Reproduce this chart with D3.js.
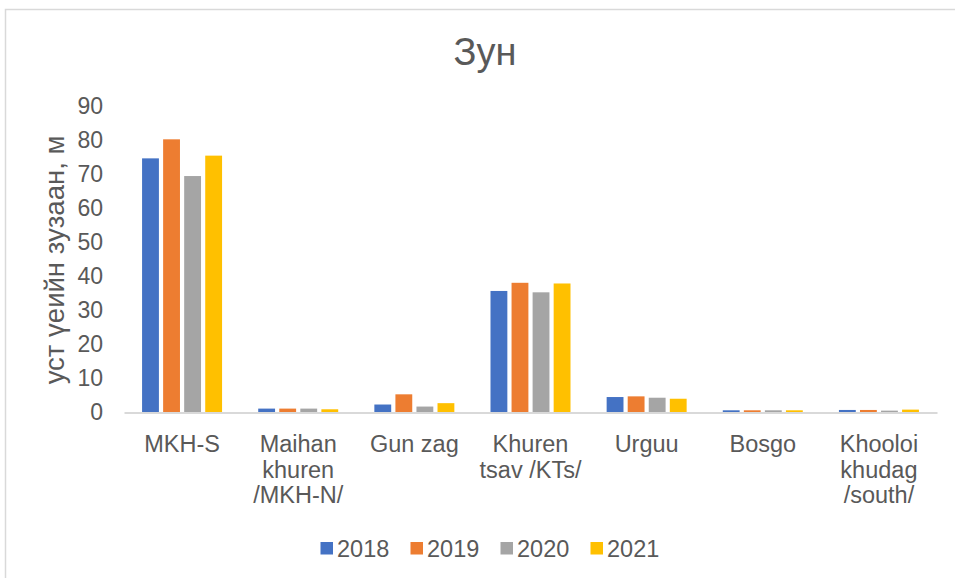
<!DOCTYPE html>
<html>
<head>
<meta charset="utf-8">
<script src="https://cdn.jsdelivr.net/npm/d3@7"></script>
<style>
  html, body { margin: 0; padding: 0; background: #fff; }
  svg { display: block; font-family: "Liberation Sans", Arial, sans-serif; }
</style>
</head>
<body>
<svg id="chart" width="955" height="578"></svg>
<script>
// Station names (wrapped as they appear under the axis)
const categories = ["MKH-S", "Maihan khuren /MKH-N/", "Gun zag", "Khuren tsav /KTs/", "Urguu", "Bosgo", "Khooloi khudag /south/"];
const categoryLines = [["MKH-S"], ["Maihan", "khuren", "/MKH-N/"], ["Gun zag"], ["Khuren", "tsav /KTs/"], ["Urguu"], ["Bosgo"], ["Khooloi", "khudag", "/south/"]];
const years = ["2018", "2019", "2020", "2021"];
const colors = ["#4472c4", "#ed7d31", "#a5a5a5", "#ffc000"];

// Groundwater level depth, m (summer)
const values2018 = [74.6, 1.0, 2.2, 35.6, 4.4, 0.5, 0.6];
const values2019 = [80.2, 1.0, 5.2, 38.0, 4.6, 0.5, 0.6];
const values2020 = [69.4, 1.0, 1.6, 35.2, 4.2, 0.5, 0.4];
const values2021 = [75.4, 0.8, 2.6, 37.8, 3.9, 0.5, 0.7];
const yTicks = [0, 10, 20, 30, 40, 50, 60, 70, 80, 90];

const series = [values2018, values2019, values2020, values2021];
const textColor = "#595959";
const fontFamily = "Liberation Sans, Arial, sans-serif";

const svg = d3.select("#chart");

// chart area frame
svg.append("rect")
  .attr("x", 5.5).attr("y", 9.5)
  .attr("width", 970).attr("height", 600)
  .attr("fill", "none").attr("stroke", "#d9d9d9").attr("stroke-width", 1.5);

const plot = { left: 124, right: 937, top: 106, bottom: 412 };

const x0 = d3.scaleBand().domain(categories).range([plot.left, plot.right]).padding(0);
const groupWidth = 80;
const x1 = d3.scaleBand().domain(years)
  .range([(x0.bandwidth() - groupWidth) / 2, (x0.bandwidth() + groupWidth) / 2])
  .paddingInner(0.2);
const y = d3.scaleLinear().domain([0, 90]).range([plot.bottom, plot.top]);

// title
svg.append("text")
  .attr("x", 485).attr("y", 65)
  .attr("text-anchor", "middle")
  .attr("fill", textColor)
  .attr("font-size", 38)
  .text("Зун");

// y axis labels
const yAxis = d3.axisLeft(y).tickValues(yTicks).tickSize(0).tickPadding(21);
const yg = svg.append("g").attr("transform", `translate(${plot.left},0)`).call(yAxis);
yg.select(".domain").remove();
yg.selectAll("text").attr("fill", textColor).attr("font-size", 23).attr("font-family", fontFamily);

// y axis title
svg.append("text")
  .attr("transform", `translate(64,${(plot.top + plot.bottom) / 2 + 1}) rotate(-90)`)
  .attr("text-anchor", "middle")
  .attr("fill", textColor)
  .attr("font-size", 27.5)
  .text("уст үеийн зузаан, м");

// bars
const groups = svg.append("g").selectAll("g")
  .data(categories)
  .join("g")
  .attr("transform", d => `translate(${x0(d)},0)`);

groups.selectAll("rect")
  .data((d, i) => years.map((yr, j) => ({ yr, j, v: series[j][i] })))
  .join("rect")
  .attr("x", d => x1(d.yr))
  .attr("width", x1.bandwidth())
  .attr("y", d => y(d.v))
  .attr("height", d => y(0) - y(d.v))
  .attr("fill", d => colors[d.j]);

// category axis
const xAxis = d3.axisBottom(x0).tickSize(0).tickFormat("");
const xg = svg.append("g").attr("transform", `translate(0,${plot.bottom + 0.5})`).call(xAxis);
xg.select(".domain").attr("stroke", "#d9d9d9").attr("stroke-width", 2);

const labels = svg.append("g").selectAll("text")
  .data(categories)
  .join("text")
  .attr("x", d => x0(d) + x0.bandwidth() / 2)
  .attr("y", 452)
  .attr("text-anchor", "middle")
  .attr("fill", textColor)
  .attr("font-size", 23.5);
labels.each(function (d, i) {
  d3.select(this).selectAll("tspan")
    .data(categoryLines[i])
    .join("tspan")
    .attr("x", x0(d) + x0.bandwidth() / 2)
    .attr("dy", (t, k) => k === 0 ? 0 : 25.5)
    .text(t => t);
});

// legend
const legendX = [320.5, 410.5, 500.5, 590.5];
const legend = svg.append("g").selectAll("g")
  .data(years)
  .join("g")
  .attr("transform", (d, i) => `translate(${legendX[i]},548.5)`);
legend.append("rect")
  .attr("x", 0).attr("y", -6.5).attr("width", 12.5).attr("height", 12.5)
  .attr("fill", (d, i) => colors[i]);
legend.append("text")
  .attr("x", 16.5).attr("y", 8)
  .attr("fill", textColor)
  .attr("font-size", 23.5)
  .text(d => d);
</script>
</body>
</html>
